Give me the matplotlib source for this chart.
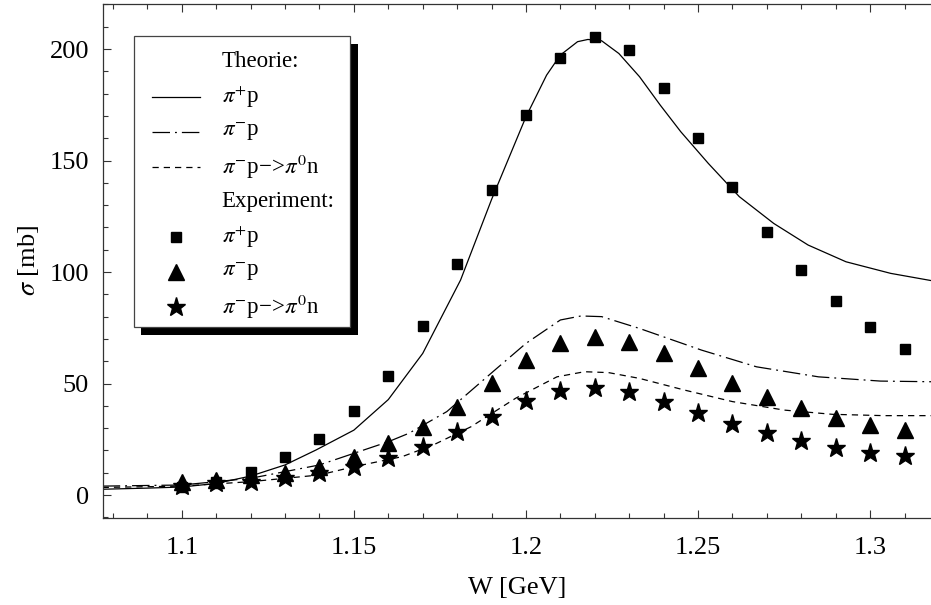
import matplotlib
matplotlib.use("Agg")
import matplotlib.pyplot as plt
from matplotlib.ticker import MultipleLocator
from matplotlib.patches import Rectangle
from matplotlib.lines import Line2D

plt.rcParams['font.family'] = ['Liberation Serif', 'DejaVu Serif']
plt.rcParams['mathtext.fontset'] = 'stix'

# ---- data ----
W_exp = [1.10, 1.11, 1.12, 1.13, 1.14, 1.15, 1.16, 1.17, 1.18, 1.19, 1.20,
         1.21, 1.22, 1.23, 1.24, 1.25, 1.26, 1.27, 1.28, 1.29, 1.30, 1.31]
exp_pip = [3.5, 6.0, 10.4, 16.9, 25.0, 37.5, 53.4, 76.0, 103.6, 136.8, 170.4,
           196.0, 205.4, 199.5, 182.5, 160.0, 138.0, 118.0, 100.9, 87.1, 75.5, 65.5]
exp_pim = [6.0, 6.7, 9.0, 10.0, 12.7, 17.2, 23.2, 30.6, 39.6, 50.4, 60.5,
           68.0, 71.0, 68.8, 63.8, 56.8, 50.1, 43.8, 38.9, 34.7, 31.4, 29.1]
exp_pi0n = [4.0, 5.2, 6.0, 7.5, 10.0, 12.7, 16.4, 21.7, 28.4, 35.1, 42.3,
            46.8, 47.8, 46.0, 41.9, 36.9, 31.8, 27.7, 24.2, 20.9, 19.0, 17.5]

W_th_pip = [1.077, 1.090, 1.100, 1.110, 1.120, 1.130, 1.139, 1.150, 1.160, 1.170,
            1.181, 1.190, 1.200, 1.206, 1.210, 1.215, 1.218, 1.222, 1.227, 1.233,
            1.239, 1.245, 1.253, 1.262, 1.272, 1.282, 1.293, 1.306, 1.318]
th_pip = [2.6, 3.1, 3.6, 5.2, 8.5, 13.5, 20.2, 29.1, 42.8, 63.5,
          96.4, 132.5, 169.6, 188.3, 197.3, 203.3, 204.3, 203.7, 198.0, 187.6,
          174.9, 162.9, 148.7, 133.8, 121.8, 112.1, 104.6, 99.4, 96.1]

W_th_pim = [1.077, 1.100, 1.120, 1.140, 1.160, 1.166, 1.177, 1.191, 1.200, 1.210,
            1.216, 1.222, 1.233, 1.251, 1.267, 1.285, 1.303, 1.318]
th_pim = [4.0, 4.5, 7.5, 13.5, 23.9, 27.7, 37.4, 56.1, 68.0, 78.5,
          80.3, 80.0, 74.7, 65.0, 57.5, 53.0, 51.1, 50.8]

W_th_pi0n = [1.077, 1.100, 1.120, 1.140, 1.150, 1.164, 1.173, 1.184, 1.197, 1.209,
             1.217, 1.224, 1.233, 1.246, 1.260, 1.275, 1.289, 1.304, 1.318]
th_pi0n = [3.4, 4.0, 6.0, 9.0, 12.7, 17.2, 22.4, 30.6, 43.4, 53.0,
           55.3, 54.9, 52.3, 47.1, 41.9, 38.1, 36.2, 35.6, 35.6]

x_ticks = [1.1, 1.15, 1.2, 1.25, 1.3]
x_ticklabels = ['1.1', '1.15', '1.2', '1.25', '1.3']
y_ticks = [0, 50, 100, 150, 200]

lab_pip = r'$\pi^{+}$p'
lab_pim = r'$\pi^{-}$p'
lab_pi0n = r'$\pi^{-}$p−>$\pi^{0}$n'

# ---- figure ----
W, H = 931, 605
fig = plt.figure(figsize=(W / 100, H / 100), dpi=100)
ax = fig.add_axes([103 / W, 1 - 518 / H, (931 - 103) / W, (518 - 4) / H])

lw = 0.9
dashdot = (14, 4, 1.5, 4)
dashed = (5, 4)
ax.plot(W_th_pip, th_pip, color='black', lw=lw, zorder=2)
ax.plot(W_th_pim, th_pim, color='black', lw=lw, dashes=dashdot, zorder=2)
ax.plot(W_th_pi0n, th_pi0n, color='black', lw=lw, dashes=dashed, zorder=2)

ax.plot(W_exp, exp_pip, ls='none', marker='s', ms=7.2, color='black', zorder=3)
ax.plot(W_exp, exp_pim, ls='none', marker='^', ms=11, color='black', zorder=4)
ax.plot(W_exp, exp_pi0n, ls='none', marker='*', ms=14, color='black', zorder=5)

ax.set_xlim(1.0771, 1.3177)
ax.set_ylim(-10.3, 220.2)

ax.set_xticks(x_ticks)
ax.set_xticklabels(x_ticklabels)
ax.set_yticks(y_ticks)
ax.xaxis.set_minor_locator(MultipleLocator(0.01))
ax.yaxis.set_minor_locator(MultipleLocator(10))
ax.tick_params(which='both', direction='in', top=True, right=False,
               width=0.8, color='#333333', labelsize=19)
ax.tick_params(which='major', length=6)
ax.tick_params(which='minor', length=3.5)
ax.tick_params(axis='x', which='major', pad=14)
ax.tick_params(axis='y', which='major', pad=10)
for s in ['left', 'top', 'bottom']:
    ax.spines[s].set_linewidth(0.9)
    ax.spines[s].set_color('#333333')
ax.spines['right'].set_visible(False)

ax.set_xlabel('W [GeV]', fontsize=19, labelpad=13)
ax.set_ylabel(r'$\sigma$ [mb]', fontsize=19, labelpad=6)

# ---- legend (custom with solid shadow) ----
def fx(x):
    return x / W

def fy(y):
    return 1 - y / H

tf = fig.transFigure
fig.patches.append(Rectangle((fx(140.5), fy(334.5)), fx(357.5) - fx(140.5),
                             fy(43.5) - fy(334.5), transform=tf,
                             facecolor='black', edgecolor='none', zorder=10))
fig.patches.append(Rectangle((fx(133.5), fy(326.5)), fx(350) - fx(133.5),
                             fy(36.5) - fy(326.5), transform=tf,
                             facecolor='white', edgecolor='#444444', lw=0.9, zorder=11))

rows = [61.7, 96.7, 131.7, 166.7, 201.7, 236.7, 271.7, 306.7]
texts = ['Theorie:', lab_pip, lab_pim, lab_pi0n, 'Experiment:', lab_pip, lab_pim, lab_pi0n]
for yy, t in zip(rows, texts):
    fig.text(fx(221.7), fy(yy), t, fontsize=16.5, ha='left', va='center',
             transform=tf, zorder=12)

styles = [None, None, dashdot, dashed]
for yy, st in zip(rows[1:4], styles[1:]):
    ln = Line2D([fx(151.7), fx(200)], [fy(yy), fy(yy)], transform=tf,
                color='black', lw=lw, zorder=12)
    if st is not None:
        ln.set_dashes(st)
    fig.lines.append(ln)
for yy, (m, ms) in zip(rows[5:], [('s', 7.2), ('^', 11), ('*', 14)]):
    fig.lines.append(Line2D([fx(176)], [fy(yy)], transform=tf, ls='none',
                            marker=m, ms=ms, color='black', zorder=12))

fig.savefig('out.png', dpi=100)
